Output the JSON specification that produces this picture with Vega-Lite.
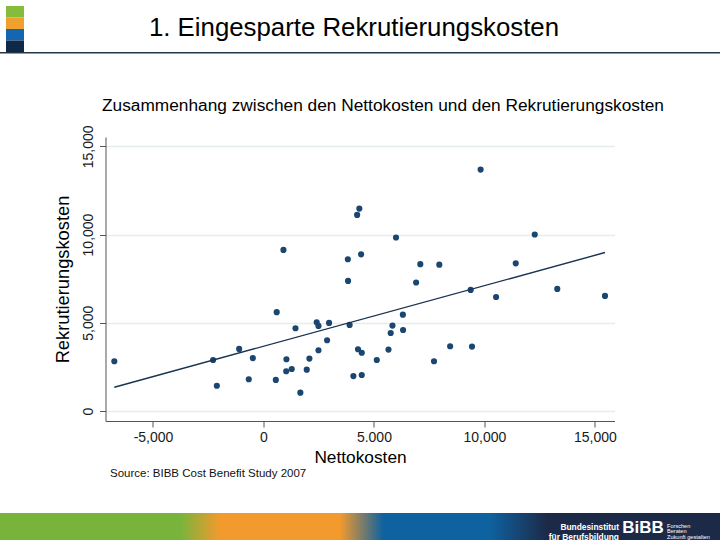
{
  "$schema": "https://vega.github.io/schema/vega-lite/v6.json",
  "padding": 0,
  "background": "white",
  "spacing": 0,
  "bounds": "flush",
  "center": true,
  "config": {
    "view": {"stroke": null},
    "font": "Liberation Sans",
    "concat": {"spacing": 0}
  },
  "vconcat": [
    {
      "width": 720, "height": 52,
      "layer": [
        {
          "data": {"values": [
            {"block": "gruen", "leiste": "farbe"}, {"block": "orange", "leiste": "farbe"},
            {"block": "blau", "leiste": "farbe"}, {"block": "navy", "leiste": "farbe"}]},
          "mark": {"type": "rect"},
          "encoding": {
            "x": {"field": "leiste", "type": "nominal", "axis": null,
                  "scale": {"domain": ["farbe"], "range": [6, 24], "paddingInner": 0, "paddingOuter": 0}},
            "y": {"field": "block", "type": "nominal", "sort": null, "axis": null,
                  "scale": {"domain": ["gruen", "orange", "blau", "navy"], "range": [6, 52], "paddingInner": 0, "paddingOuter": 0}},
            "color": {"field": "block", "type": "nominal", "legend": null,
                      "scale": {"domain": ["gruen", "orange", "blau", "navy"], "range": ["#86bc3c", "#f0a02c", "#1466b0", "#0f2848"]}}
          }
        },
        {
          "data": {"values": [{"titel": "1. Eingesparte Rekrutierungskosten"}]},
          "mark": {"type": "text", "fontSize": 25.8, "baseline": "middle", "align": "center", "dx": -6, "dy": 2, "color": "#000000"},
          "encoding": {"text": {"field": "titel"}}
        }
      ]
    },
    {
      "width": 720, "height": 1.6,
      "data": {"values": [{"streifen": "kopflinie"}]},
      "mark": {"type": "rect", "color": "#22384a"},
      "encoding": {}
    },
    {
      "width": 720, "height": 82.4,
      "data": {"values": []},
      "mark": {"type": "point", "opacity": 0}
    },
    {
      "width": 509, "height": 284,
      "title": {"text": "Zusammenhang zwischen den Nettokosten und den Rekrutierungskosten", "fontSize": 17.3, "fontWeight": "normal", "color": "#000000", "anchor": "middle", "frame": "group", "dx": 23, "offset": 11},
      "data": {"values": [
        {"Nettokosten": -6750, "Rekrutierungskosten": 2820},
        {"Nettokosten": -2280, "Rekrutierungskosten": 2890},
        {"Nettokosten": -2110, "Rekrutierungskosten": 1430},
        {"Nettokosten": -1100, "Rekrutierungskosten": 3520},
        {"Nettokosten": -480, "Rekrutierungskosten": 3000},
        {"Nettokosten": -665, "Rekrutierungskosten": 1800},
        {"Nettokosten": 600, "Rekrutierungskosten": 5600},
        {"Nettokosten": 560, "Rekrutierungskosten": 1760},
        {"Nettokosten": 905, "Rekrutierungskosten": 9130},
        {"Nettokosten": 1450, "Rekrutierungskosten": 4690},
        {"Nettokosten": 1040, "Rekrutierungskosten": 2930},
        {"Nettokosten": 1030, "Rekrutierungskosten": 2250},
        {"Nettokosten": 1280, "Rekrutierungskosten": 2380},
        {"Nettokosten": 1670, "Rekrutierungskosten": 1040},
        {"Nettokosten": 1960, "Rekrutierungskosten": 2340},
        {"Nettokosten": 2080, "Rekrutierungskosten": 2970},
        {"Nettokosten": 2490, "Rekrutierungskosten": 3440},
        {"Nettokosten": 2410, "Rekrutierungskosten": 5030},
        {"Nettokosten": 2490, "Rekrutierungskosten": 4820},
        {"Nettokosten": 2880, "Rekrutierungskosten": 4010},
        {"Nettokosten": 2970, "Rekrutierungskosten": 4990},
        {"Nettokosten": 3900, "Rekrutierungskosten": 4880},
        {"Nettokosten": 4070, "Rekrutierungskosten": 1980},
        {"Nettokosten": 3830, "Rekrutierungskosten": 7370},
        {"Nettokosten": 6910, "Rekrutierungskosten": 7280},
        {"Nettokosten": 9380, "Rekrutierungskosten": 6860},
        {"Nettokosten": 10530, "Rekrutierungskosten": 6460},
        {"Nettokosten": 13300, "Rekrutierungskosten": 6920},
        {"Nettokosten": 15460, "Rekrutierungskosten": 6520},
        {"Nettokosten": 6310, "Rekrutierungskosten": 5460},
        {"Nettokosten": 5840, "Rekrutierungskosten": 4840},
        {"Nettokosten": 5760, "Rekrutierungskosten": 4420},
        {"Nettokosten": 6320, "Rekrutierungskosten": 4590},
        {"Nettokosten": 4280, "Rekrutierungskosten": 3500},
        {"Nettokosten": 4450, "Rekrutierungskosten": 3300},
        {"Nettokosten": 5660, "Rekrutierungskosten": 3480},
        {"Nettokosten": 5130, "Rekrutierungskosten": 2890},
        {"Nettokosten": 4450, "Rekrutierungskosten": 2040},
        {"Nettokosten": 7720, "Rekrutierungskosten": 2820},
        {"Nettokosten": 8450, "Rekrutierungskosten": 3670},
        {"Nettokosten": 9440, "Rekrutierungskosten": 3650},
        {"Nettokosten": 9830, "Rekrutierungskosten": 13680},
        {"Nettokosten": 4340, "Rekrutierungskosten": 11470},
        {"Nettokosten": 4240, "Rekrutierungskosten": 11110},
        {"Nettokosten": 6000, "Rekrutierungskosten": 9830},
        {"Nettokosten": 12280, "Rekrutierungskosten": 10000},
        {"Nettokosten": 3820, "Rekrutierungskosten": 8600},
        {"Nettokosten": 4420, "Rekrutierungskosten": 8880},
        {"Nettokosten": 7100, "Rekrutierungskosten": 8320},
        {"Nettokosten": 7960, "Rekrutierungskosten": 8290},
        {"Nettokosten": 11420, "Rekrutierungskosten": 8370}
      ]},
      "encoding": {
        "x": {"field": "Nettokosten", "type": "quantitative",
              "scale": {"domain": [-7150, 15890], "nice": false, "zero": false},
              "axis": {"title": "Nettokosten", "values": [-5000, 0, 5000, 10000, 15000],
                       "labelExpr": "datum.value == 5000 ? '5.000' : (datum.value < 0 ? '-' : '') + format(abs(datum.value), ',')",
                       "grid": false, "domainColor": "#555555", "tickColor": "#555555", "tickSize": 6,
                       "labelFontSize": 14, "labelColor": "#1a1a1a", "labelPadding": 3, "labelFlush": false, "labelOverlap": false,
                       "titleFontSize": 17.3, "titleFontWeight": "normal", "titleColor": "#000000", "titlePadding": 4}},
        "y": {"field": "Rekrutierungskosten", "type": "quantitative",
              "scale": {"domain": [-567, 15527], "nice": false, "zero": false},
              "axis": {"title": "Rekrutierungskosten", "values": [0, 5000, 10000, 15000],
                       "labelExpr": "format(datum.value, ',')", "labelAngle": 270,
                       "grid": true, "gridColor": "#e5edf0", "gridWidth": 1.5,
                       "domainColor": "#555555", "tickColor": "#555555", "tickSize": 6,
                       "labelFontSize": 14, "labelColor": "#1a1a1a", "labelPadding": 4, "labelFlush": false, "labelOverlap": false,
                       "titleFontSize": 18.3, "titleFontWeight": "normal", "titleColor": "#000000", "titlePadding": 9}}
      },
      "layer": [
        {"mark": {"type": "circle", "size": 38, "color": "#1b4670", "opacity": 1}},
        {"transform": [{"regression": "Rekrutierungskosten", "on": "Nettokosten"}],
         "mark": {"type": "line", "color": "#18324f", "strokeWidth": 1.4}}
      ]
    },
    {
      "width": 720, "height": 92,
      "data": {"values": [{"quelle": "Source:  BIBB Cost Benefit Study 2007"}]},
      "mark": {"type": "text", "align": "left", "baseline": "middle", "fontSize": 11.5, "dx": -250, "dy": 7, "color": "#111111"},
      "encoding": {"text": {"field": "quelle"}}
    },
    {
      "width": 720, "height": 28,
      "layer": [
        {
          "data": {"values": [{"streifen": "footer"}]},
          "mark": {"type": "rect", "color": {"gradient": "linear", "x1": 0, "y1": 0, "x2": 1, "y2": 0,
            "stops": [
              {"offset": 0, "color": "#78b43c"},
              {"offset": 0.25, "color": "#78b43c"},
              {"offset": 0.306, "color": "#f39a2e"},
              {"offset": 0.472, "color": "#f39a2e"},
              {"offset": 0.532, "color": "#0f62a0"},
              {"offset": 0.68, "color": "#0f62a0"},
              {"offset": 0.76, "color": "#1c2a48"},
              {"offset": 1, "color": "#1c2a48"}
            ]}},
          "encoding": {}
        },
        {
          "data": {"values": [
            {"teil": "a", "text": "Bundesinstitut\nfür Berufsbildung"},
            {"teil": "b", "text": "BiBB"},
            {"teil": "c", "text": "Forschen\nBeraten\nZukunft gestalten"}
          ]},
          "encoding": {
            "x": {"field": "teil", "type": "nominal", "axis": null,
                  "scale": {"type": "point", "domain": ["a", "b", "c"], "range": [619, 667], "padding": 0}},
            "text": {"field": "text"}
          },
          "layer": [
            {"transform": [{"filter": "datum.teil == 'a'"}],
             "mark": {"type": "text", "color": "white", "fontSize": 8.4, "fontWeight": "bold", "lineBreak": "\n", "lineHeight": 9.5, "align": "right", "baseline": "middle"}},
            {"transform": [{"filter": "datum.teil == 'b'"}],
             "mark": {"type": "text", "color": "white", "fontSize": 17, "fontWeight": "bold", "align": "center", "dy": 1, "baseline": "middle"}},
            {"transform": [{"filter": "datum.teil == 'c'"}],
             "mark": {"type": "text", "color": "white", "fontSize": 5.6, "lineBreak": "\n", "lineHeight": 5.8, "align": "left", "baseline": "middle", "dy": -1.5}}
          ]
        }
      ]
    }
  ]
}
